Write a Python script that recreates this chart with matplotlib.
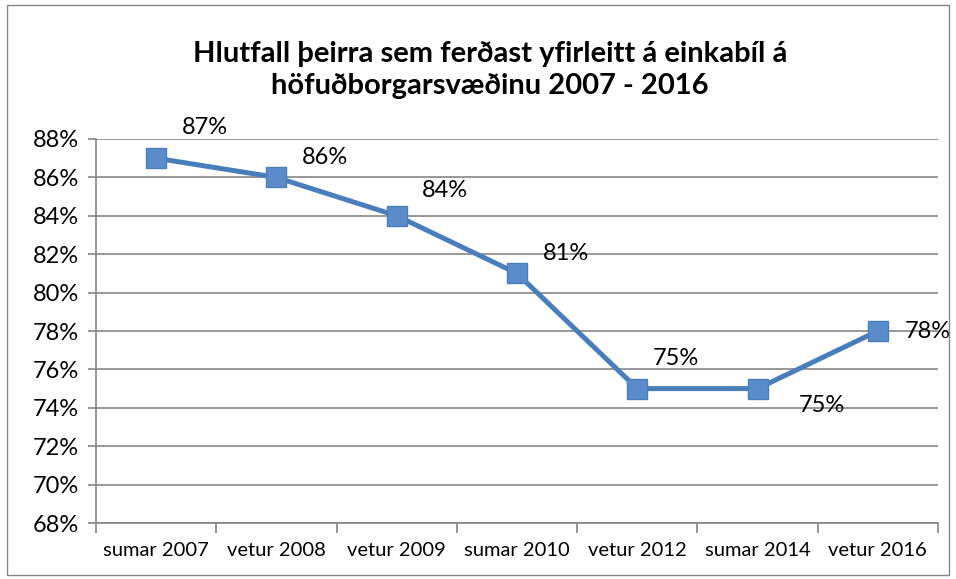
import matplotlib
matplotlib.use('Agg')
import matplotlib.pyplot as plt
from matplotlib.patches import Rectangle

# Dados do gráfico
kannanir = ['sumar 2007', 'vetur 2008', 'vetur 2009', 'sumar 2010',
            'vetur 2012', 'sumar 2014', 'vetur 2016']
hlutfall = [87, 86, 84, 81, 75, 75, 78]
y_ticks = [68, 70, 72, 74, 76, 78, 80, 82, 84, 86, 88]
titill = 'Hlutfall þeirra sem ferðast yfirleitt á einkabíl á\nhöfuðborgarsvæðinu 2007 - 2016'

# posição dos rótulos (em pontos, relativo ao marcador)
offsets = [(35, 22), (35, 14), (35, 18), (35, 14), (28, 22), (46, -12), (36, 0)]

plt.rcParams['font.family'] = ['Lato', 'DejaVu Sans']

fig = plt.figure(figsize=(9.56, 5.79), dpi=100)
ax = fig.add_axes([96 / 956, 1 - 523 / 579, 842 / 956, 384 / 579])

x = list(range(len(kannanir)))
ax.plot(x, hlutfall, color='#4A7EBB', linewidth=3.6, marker='s', markersize=15,
        markerfacecolor='#5B8BCB', markeredgecolor='#4A7EBB', markeredgewidth=1, zorder=3)

for i, v in enumerate(hlutfall):
    ax.annotate(f'{v}%', (i, v), xytext=offsets[i], textcoords='offset points',
                ha='center', va='center', fontsize=17)

ax.set_xlim(-0.5, len(kannanir) - 0.5)
ax.set_ylim(68, 88)
ax.set_yticks(y_ticks)
ax.set_yticklabels([f'{t}%' for t in y_ticks], fontsize=17)
ax.set_xticks(x)
ax.set_xticklabels(kannanir, fontsize=14.5)
ax.tick_params(axis='x', length=0, pad=14)
ax.tick_params(axis='y', length=6, width=1.2, color='#868686', pad=6, direction='out')
ax.set_xticks([i + 0.5 for i in range(-1, len(kannanir))], minor=True)
ax.tick_params(axis='x', which='minor', length=7, width=1.2, color='#868686', direction='out')

ax.grid(axis='y', color='#868686', linewidth=1.2)
ax.set_axisbelow(True)
for s in ['top', 'right']:
    ax.spines[s].set_visible(False)
for s in ['left', 'bottom']:
    ax.spines[s].set_color('#868686')
    ax.spines[s].set_linewidth(1.2)

fig.text(490 / 956, 1 - 70 / 579, titill, ha='center', va='center',
         fontsize=21, fontweight='bold', linespacing=1.3)

fig.patches.append(Rectangle((7 / 956, 4 / 579), 942 / 956, 570 / 579,
                             transform=fig.transFigure, fill=False,
                             edgecolor='#868686', linewidth=1))

plt.savefig('out.png', dpi=100)
